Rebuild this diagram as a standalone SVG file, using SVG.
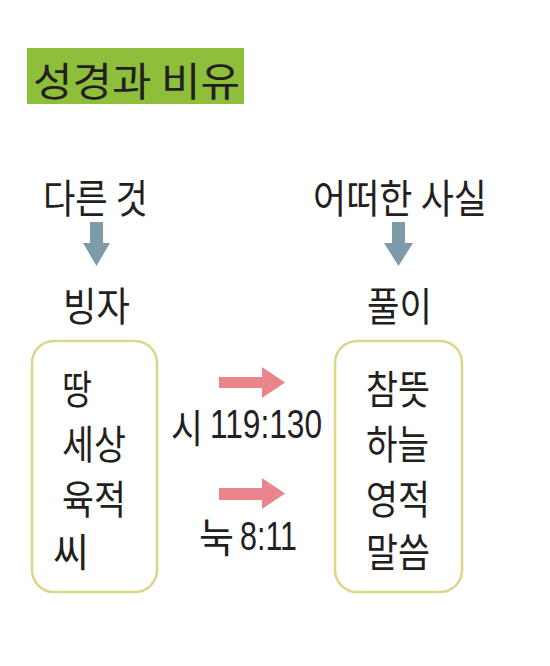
<svg xmlns="http://www.w3.org/2000/svg" width="550" height="666" viewBox="0 0 550 666">
<style>
.t{font-family:"Noto Sans CJK KR","Noto Sans",sans-serif;fill:#231f20;font-size:40px;font-weight:400}
.n{font-family:"Liberation Sans","Noto Sans CJK KR",sans-serif}
.box{fill:#fff;stroke:#dcd58c;stroke-width:2.5}
.ga{fill:#7f9aa8}
.pa{fill:#e8868c}
</style>
<rect width="550" height="666" fill="#fff"/>
<g id="title">
<rect x="27" y="48" width="217" height="56" fill="#8dbf3b"/>
<text class="t" x="33" y="96" font-size="44" textLength="207" lengthAdjust="spacingAndGlyphs">성경과 비유</text>
</g>
<g id="left-head">
<text class="t" x="43" y="213" textLength="105" lengthAdjust="spacingAndGlyphs">다른 것</text>
</g>
<g id="right-head">
<text class="t" x="313" y="213" textLength="174" lengthAdjust="spacingAndGlyphs">어떠한 사실</text>
</g>
<g id="left-label">
<text class="t" x="63" y="321" textLength="67" lengthAdjust="spacingAndGlyphs">빙자</text>
</g>
<g id="right-label">
<text class="t" x="367" y="321" textLength="65" lengthAdjust="spacingAndGlyphs">풀이</text>
</g>
<g id="left-box">
<rect class="box" x="32" y="341" width="125" height="251" rx="22"/>
<text class="t" x="62" y="404" textLength="30" lengthAdjust="spacingAndGlyphs">땅</text>
<text class="t" x="62" y="459" textLength="64" lengthAdjust="spacingAndGlyphs">세상</text>
<text class="t" x="62" y="514" textLength="64" lengthAdjust="spacingAndGlyphs">육적</text>
<text class="t" x="53" y="567" textLength="36" lengthAdjust="spacingAndGlyphs">씨</text>
</g>
<g id="right-box">
<rect class="box" x="335" y="341" width="127" height="251" rx="22"/>
<text class="t" x="366" y="404" textLength="64" lengthAdjust="spacingAndGlyphs">참뜻</text>
<text class="t" x="366" y="459" textLength="63" lengthAdjust="spacingAndGlyphs">하늘</text>
<text class="t" x="366" y="514" textLength="64" lengthAdjust="spacingAndGlyphs">영적</text>
<text class="t" x="366" y="567" textLength="64" lengthAdjust="spacingAndGlyphs">말씀</text>
</g>
<g id="connectors">
<polygon class="ga" points="90,222 103,222 103,243 110,243 96.5,266 83,243 90,243"/>
<polygon class="ga" points="392,222 405,222 405,243 413,243 398.5,266 384,243 392,243"/>
<polygon class="pa" points="219,377 262,377 262,367 285,382.5 262,398 262,388 219,388"/>
<polygon class="pa" points="219,488 262,488 262,478 285,493.5 262,509 262,500 219,500"/>
<text class="t" x="171" y="443" textLength="32" lengthAdjust="spacingAndGlyphs">시</text>
<text class="t n" x="210" y="438" textLength="112" lengthAdjust="spacingAndGlyphs">119:130</text>
<text class="t" x="199" y="552" textLength="35" lengthAdjust="spacingAndGlyphs">눅</text>
<text class="t n" x="240" y="550" font-size="36" textLength="57" lengthAdjust="spacingAndGlyphs">8:11</text>
</g>
</svg>
